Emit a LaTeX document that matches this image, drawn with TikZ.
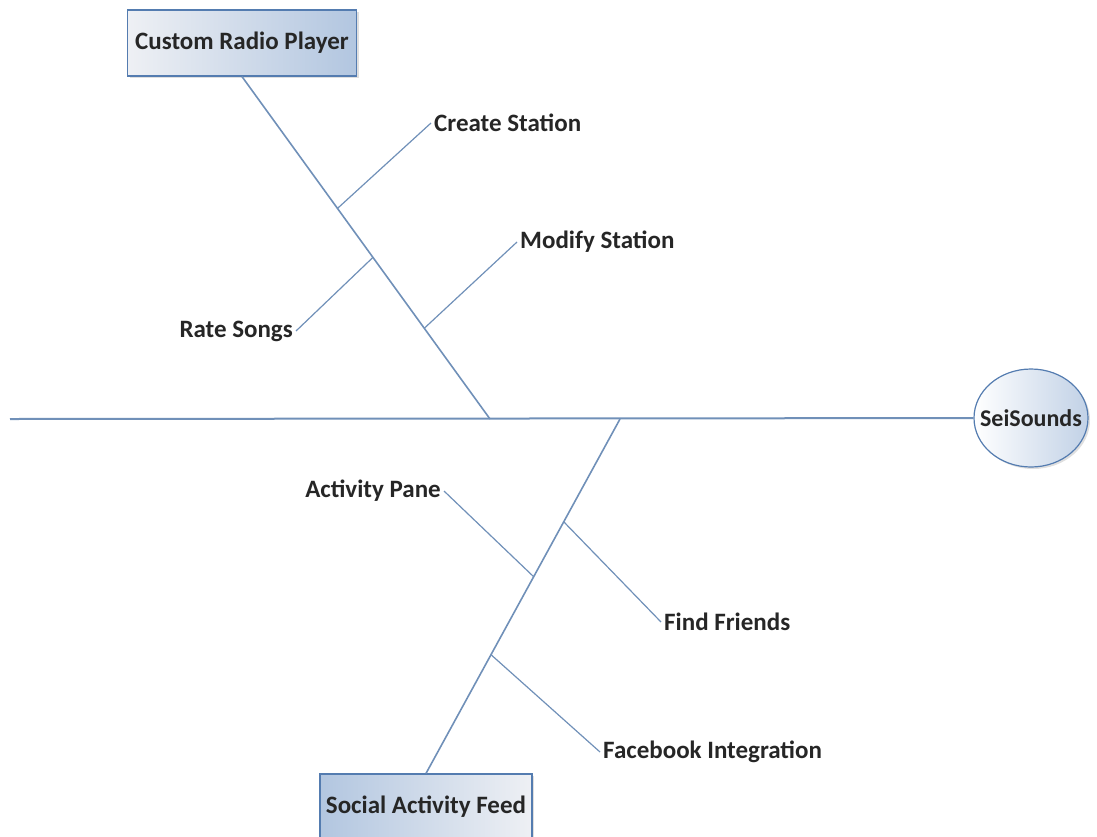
\documentclass[tikz,border=0pt]{standalone}
\usepackage{fontspec}
\setmainfont{Carlito}
\usetikzlibrary{shapes.geometric,shadows,calc}

\definecolor{bonecol}{RGB}{112,144,184}
\definecolor{framecol}{RGB}{84,124,176}
\definecolor{palecol}{RGB}{238,240,244}
\definecolor{deepcol}{RGB}{178,198,224}

\begin{document}
\begin{tikzpicture}[
        x=1pt, y=-1pt,
        spine/.style = {draw=bonecol, line width=2pt}, % главная ось
        bone/.style = {draw=bonecol, line width=1.6pt},
        twig/.style = {draw=bonecol, line width=1.2pt},
        cat/.style = {rectangle, draw=framecol, line width=1.2pt, minimum width=229pt, minimum height=66pt,
                font=\fontsize{25}{30}\selectfont\bfseries, text=black!85,
                drop shadow={opacity=0.25, shadow xshift=2pt, shadow yshift=-2pt}},
        effect/.style = {ellipse, draw=framecol, line width=1.2pt, minimum width=114pt, minimum height=98pt,
                inner sep=0pt, font=\fontsize{24}{29}\selectfont\bfseries, text=black!85,
                left color=white, right color=deepcol!80,
                drop shadow={opacity=0.25, shadow xshift=2pt, shadow yshift=-2pt}},
        cause/.style = {font=\fontsize{25}{30}\selectfont\bfseries, text=black!85, inner sep=3pt},
    ]
    \useasboundingbox (0,0) rectangle (1097,836);

    % голова и хребет
    \node[effect] (sei) at (1031,418) {\makebox[0pt]{SeiSounds}};
    \coordinate (tail) at (10,419);
    \draw[spine] (tail) -- (sei);

    % верхняя кость
    \node[cat, left color=palecol, right color=deepcol] (radio) at (242,43) {Custom Radio Player};
    \coordinate (jradio) at (490,419);
    \draw[bone] (radio.south) -- (jradio);

    % нижняя кость
    \node[cat, minimum width=212pt, left color=deepcol, right color=palecol] (social) at (426,807) {Social Activity Feed};
    \coordinate (jsocial) at (620,419);
    \draw[bone] (social.north) -- (jsocial);

    % причины сверху
    \node[cause, anchor=west] (create) at (431,123) {Create Station};
    \node[cause, anchor=west] (modify) at (517,242) {Modify Station};
    \node[cause, anchor=east] (rate) at (296,331) {Rate Songs};
    \draw[twig] ($(radio.south)!0.385!(jradio)$) -- (create.west);
    \draw[twig] ($(radio.south)!0.528!(jradio)$) -- (rate.east);
    \draw[twig] ($(radio.south)!0.735!(jradio)$) -- (modify.west);

    % причины снизу
    \node[cause, anchor=east] (pane) at (444,491) {Activity Pane};
    \node[cause, anchor=west] (friends) at (661,622) {Find Friends};
    \node[cause, anchor=west] (facebook) at (600,752) {Facebook Integration};
    \draw[twig] ($(jsocial)!0.29!(social.north)$) -- (friends.west);
    \draw[twig] ($(jsocial)!0.445!(social.north)$) -- (pane.east);
    \draw[twig] ($(jsocial)!0.665!(social.north)$) -- (facebook.west);
\end{tikzpicture}
\end{document}
